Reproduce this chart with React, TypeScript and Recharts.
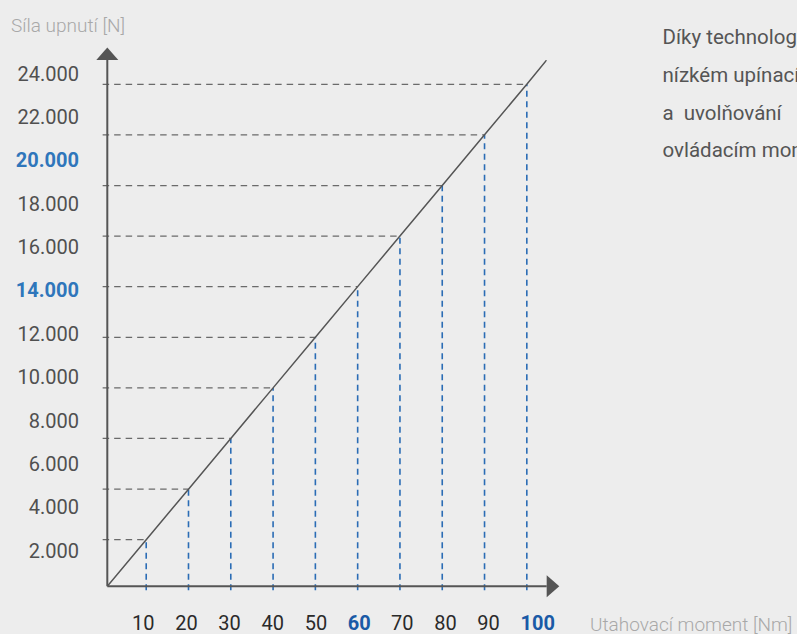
import React from 'react';
import { ComposedChart, Line, XAxis, YAxis, ReferenceLine, ReferenceDot } from 'recharts';

// ---- data ----
const torque = [10, 20, 30, 40, 50, 60, 70, 80, 90, 100];
const force = [2500, 4830, 7170, 9500, 11830, 14170, 16500, 18830, 21170, 23500];
const forceTicks = [2000, 4000, 6000, 8000, 10000, 12000, 14000, 16000, 18000, 20000, 22000, 24000];
const torqueTicks = [10, 20, 30, 40, 50, 60, 70, 80, 90, 100];
const highlightForce = [14000, 20000];
const highlightTorque = [60, 100];
const lineStart = { t: 0.8, f: 350 };
const lineEnd = { t: 104.7, f: 24620 };
const torqueDomain: [number, number] = [0.8, 104.7];
const forceDomain: [number, number] = [350, 24620];
const yTitle = 'Síla upnutí [N]';
const xTitle = 'Utahovací moment [Nm]';
const paragraphLines = ['Díky technologii', 'nízkém upínacím', 'a uvolňování', 'ovládacím momentu'];

// ---- style ----
const W = 797;
const H = 634;
const FONT = 'Roboto, "Noto Sans", sans-serif';
const BG = '#ededed';
const AXIS = '#555555';
// x tick labels sit slightly left of their dashed line and drift right
const X_LABEL_SHIFT = -14.2;
const X_LABEL_DRIFT = 0.0877;

const lineData = [lineStart, ...torque.map((t, i) => ({ t, f: force[i] })), lineEnd];

const fmt = (v: number) => {
  const th = Math.floor(v / 1000);
  const rest = String(v % 1000).padStart(3, '0');
  return `${th}.${rest}`;
};

const YTick = (props: any) => {
  const { x, y, payload } = props;
  const hl = highlightForce.includes(payload.value);
  return (
    <text
      x={x}
      y={y}
      dy="0.355em"
      textAnchor="end"
      fontFamily={FONT}
      fontSize={20}
      fontWeight={hl ? 700 : 400}
      fill={hl ? '#2f76bb' : '#505050'}
    >
      {fmt(payload.value)}
    </text>
  );
};

const XTick = (props: any) => {
  const { x, y, payload } = props;
  const hl = highlightTorque.includes(payload.value);
  const dx = X_LABEL_SHIFT + (payload.value - torqueTicks[0]) * X_LABEL_DRIFT;
  return (
    <text
      x={x + dx}
      y={y}
      dy="0.71em"
      textAnchor="start"
      fontFamily={FONT}
      fontSize={20}
      fontWeight={hl ? 700 : 400}
      fill={hl ? '#1a5aa6' : '#2a2a2a'}
    >
      {payload.value}
    </text>
  );
};

const UpArrow = (props: any) => {
  const { cx, cy } = props;
  return <polygon points={`${cx - 11},${cy} ${cx + 11},${cy} ${cx},${cy - 12.5}`} fill={AXIS} />;
};

const RightArrow = (props: any) => {
  const { cx, cy } = props;
  return <polygon points={`${cx},${cy - 11} ${cx},${cy + 11} ${cx + 12.6},${cy}`} fill={AXIS} />;
};

export default function App() {
  return (
    <div
      style={{
        position: 'absolute',
        left: 0,
        top: 0,
        width: W,
        height: H,
        background: BG,
        overflow: 'hidden',
        fontFamily: FONT,
      }}
    >
      <ComposedChart width={W} height={H} margin={{ top: 60, right: 250.3, bottom: 0, left: 0 }}>
        <XAxis
          xAxisId="d"
          type="number"
          dataKey="t"
          domain={torqueDomain}
          allowDataOverflow
          ticks={torqueTicks}
          interval={0}
          height={47.7}
          tickLine={false}
          tickSize={0}
          tickMargin={29.5}
          axisLine={{ stroke: AXIS, strokeWidth: 2 }}
          tick={<XTick />}
        />
        <YAxis
          yAxisId="f"
          type="number"
          domain={forceDomain}
          allowDataOverflow
          ticks={forceTicks}
          interval={0}
          width={107.3}
          tickLine={false}
          tickSize={0}
          tickMargin={28.3}
          axisLine={{ stroke: AXIS, strokeWidth: 2 }}
          tick={<YTick />}
        />
        {torque.map((t, i) => (
          <ReferenceLine
            key={`h${t}`}
            xAxisId="d"
            yAxisId="f"
            segment={[
              { x: torqueDomain[0] - 1.1, y: force[i] },
              { x: t, y: force[i] },
            ]}
            stroke="#6a6a6a"
            strokeWidth={1.3}
            strokeDasharray="6.5 5"
            ifOverflow="visible"
          />
        ))}
        {torque.map((t, i) => (
          <ReferenceLine
            key={`v${t}`}
            xAxisId="d"
            yAxisId="f"
            segment={[
              { x: t, y: forceDomain[0] - 180 },
              { x: t, y: force[i] },
            ]}
            stroke="#2a6cb5"
            strokeWidth={1.6}
            strokeDasharray="6 4.5"
            ifOverflow="visible"
          />
        ))}
        <Line
          xAxisId="d"
          yAxisId="f"
          data={lineData}
          dataKey="f"
          type="linear"
          stroke={AXIS}
          strokeWidth={1.5}
          dot={false}
          activeDot={false}
          isAnimationActive={false}
        />
        <ReferenceDot
          xAxisId="d"
          yAxisId="f"
          x={torqueDomain[0]}
          y={forceDomain[1]}
          ifOverflow="visible"
          shape={<UpArrow />}
        />
        <ReferenceDot
          xAxisId="d"
          yAxisId="f"
          x={torqueDomain[1]}
          y={forceDomain[0]}
          ifOverflow="visible"
          shape={<RightArrow />}
        />
      </ComposedChart>
      <svg
        width={W}
        height={H}
        style={{ position: 'absolute', left: 0, top: 0, pointerEvents: 'none' }}
      >
        <text x={11} y={31.7} fontFamily={FONT} fontSize={19} fontWeight={300} fill="#a8a8a8">
          {yTitle}
        </text>
        <text x={590} y={630.5} fontFamily={FONT} fontSize={19} fontWeight={300} fill="#a8a8a8">
          {xTitle}
        </text>
        {paragraphLines.map((s, i) => (
          <text
            key={s}
            x={662.5}
            y={44 + i * 37.8}
            fontFamily={FONT}
            fontSize={20.5}
            fill="#555555"
            wordSpacing={i === 2 ? 5 : 0}
          >
            {s}
          </text>
        ))}
      </svg>
    </div>
  );
}
